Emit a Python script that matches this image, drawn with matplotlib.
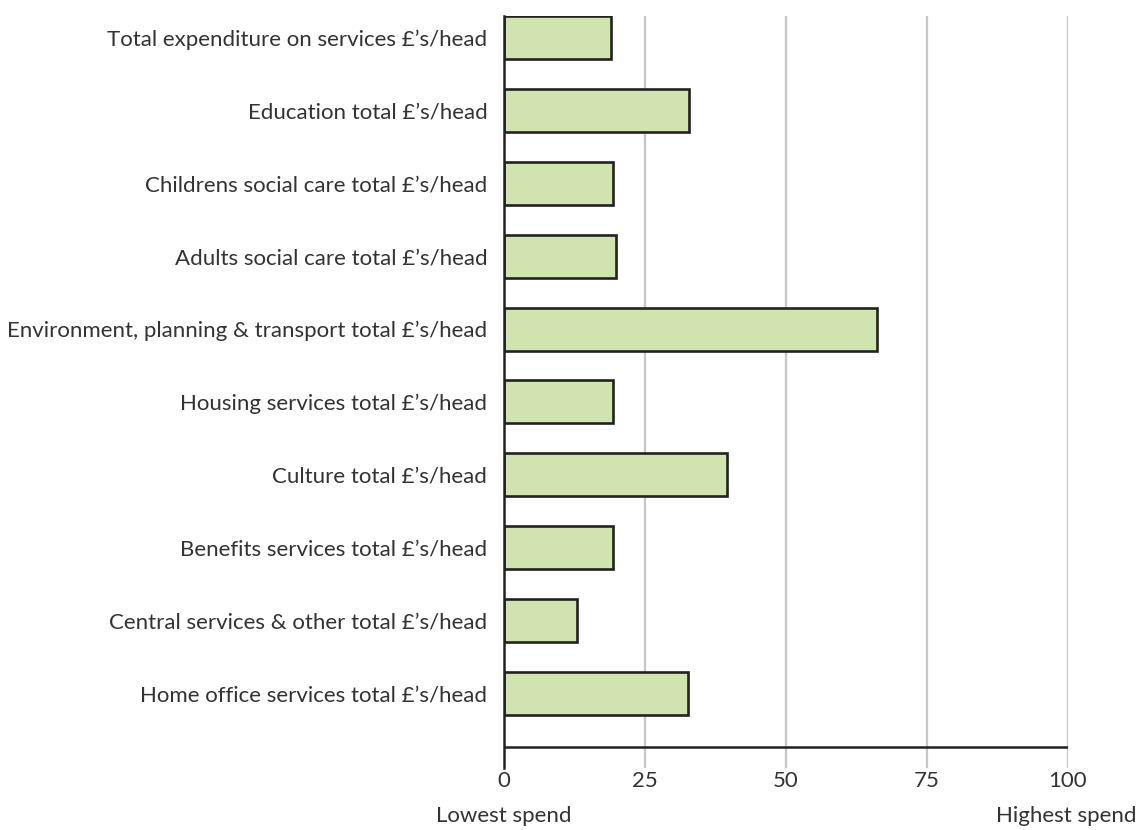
import numpy as np
from matplotlib import pyplot as plt

categories = [
    "Total expenditure on services £\u2019s/head",
    "Education total £\u2019s/head",
    "Childrens social care total £\u2019s/head",
    "Adults social care total £\u2019s/head",
    "Environment, planning & transport total £\u2019s/head",
    "Housing services total £\u2019s/head",
    "Culture total £\u2019s/head",
    "Benefits services total £\u2019s/head",
    "Central services & other total £\u2019s/head",
    "Home office services total £\u2019s/head",
]
values = [19.0, 32.8, 19.4, 19.8, 66.1, 19.4, 39.5, 19.4, 12.9, 32.7]
xticks = [0, 25, 50, 75, 100]

plt.rcParams['font.family'] = ['Lato', 'DejaVu Sans']
text_color = '#333333'
fs = 16

fig = plt.figure(figsize=(11.41, 8.30), dpi=100)
ax = fig.add_axes([504 / 1141, 1 - 768 / 830, 564 / 1141, (768 - 15.5) / 830])

y = np.arange(len(categories))
axis_y = 9.73

# grid lines run past the axis line like ticks
for t in xticks[1:]:
    ax.axvline(t, color='#c6c6ca', linewidth=1.6, zorder=0)

ax.barh(y, values, height=0.59, color='#d1e4b0', edgecolor='#222222',
        linewidth=1.9, zorder=2)
ax.plot([0, 100], [axis_y, axis_y], color='#222222', linewidth=1.8,
        zorder=3, solid_capstyle='butt')

ax.set_xlim(0, 100)
ax.set_ylim(10.02, -0.3)

ax.set_yticks(y)
ax.set_yticklabels(categories, fontsize=fs, color=text_color)
ax.tick_params(axis='y', length=0, pad=12)

ax.set_xticks(xticks)
ax.set_xticklabels([str(t) for t in xticks], fontsize=fs, color=text_color)
ax.tick_params(axis='x', length=0, pad=2)

for side in ['top', 'right', 'bottom']:
    ax.spines[side].set_visible(False)
ax.spines['left'].set_color('#222222')
ax.spines['left'].set_linewidth(1.8)

ax.text(0, -0.064, 'Lowest spend', transform=ax.get_xaxis_transform(),
        ha='center', va='center', fontsize=fs, color=text_color)
ax.text(112.1, -0.064, 'Highest spend', transform=ax.get_xaxis_transform(),
        ha='right', va='center', fontsize=fs, color=text_color)

plt.savefig('out.png', dpi=100)
